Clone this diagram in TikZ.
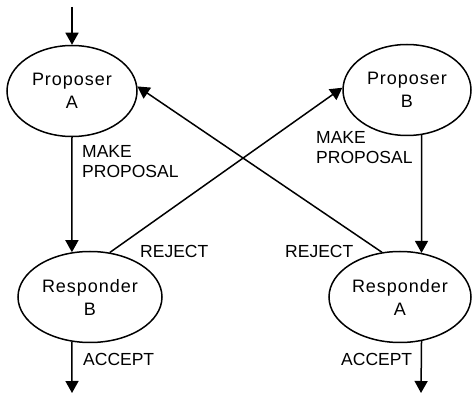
\documentclass[tikz,border=0pt]{standalone}
\usepackage{fontspec}
\setmainfont{Liberation Sans}
\newfontfamily\wideface[LetterSpace=5.5]{Liberation Sans}
\usetikzlibrary{shapes.geometric,arrows.meta}

\tikzstyle{player} = [ellipse, draw, line width=1.5pt, inner sep=0pt,
  minimum height=91pt, align=center, font=\wideface\fontsize{18}{23}\selectfont]
\tikzstyle{move} = [anchor=west, align=left, inner sep=0pt,
  font=\fontsize{17.5}{20}\selectfont]
\tikzstyle{arr} = [line width=1.5pt, -{Triangle[length=12pt,width=13pt]}]

\begin{document}
\begin{tikzpicture}[x=1pt, y=-1pt]
    \useasboundingbox (0,0) rectangle (472,398);
    % the four players
    \node[player, minimum width=130pt] (pa) at (72,91) {Proposer\\A};
    \node[player, minimum width=128pt] (pb) at (407,90) {Proposer\\B};
    \node[player, minimum width=144pt] (rb) at (90,297) {Responder\\B};
    \node[player, minimum width=142pt] (ra) at (400,297) {Responder\\A};
    % free ends
    \coordinate (in) at (72,7);
    \coordinate (outb) at (72,393);
    \coordinate (outa) at (421,393);
    % moves
    \draw[arr] (in) -- (pa);
    \draw[arr] (pa.south) -- (rb.112);
    \draw[arr] (pb.-72.5) -- (ra.64);
    \draw[arr] (rb.66) -- (pb.178);
    \draw[arr] (ra.112) -- (pa.4);
    \draw[arr] (rb.-112) -- (outb);
    \draw[arr] (ra.-64) -- (outa);
    % labels
    \node[move] (mpa) at (82,162) {MAKE\\PROPOSAL};
    \node[move] (mpb) at (316,148) {MAKE\\PROPOSAL};
    \node[move] (rjb) at (140,251) {REJECT};
    \node[move] (rja) at (285,251) {REJECT};
    \node[move] (acb) at (83,359) {ACCEPT};
    \node[move] (aca) at (341,359) {ACCEPT};
\end{tikzpicture}
\end{document}
